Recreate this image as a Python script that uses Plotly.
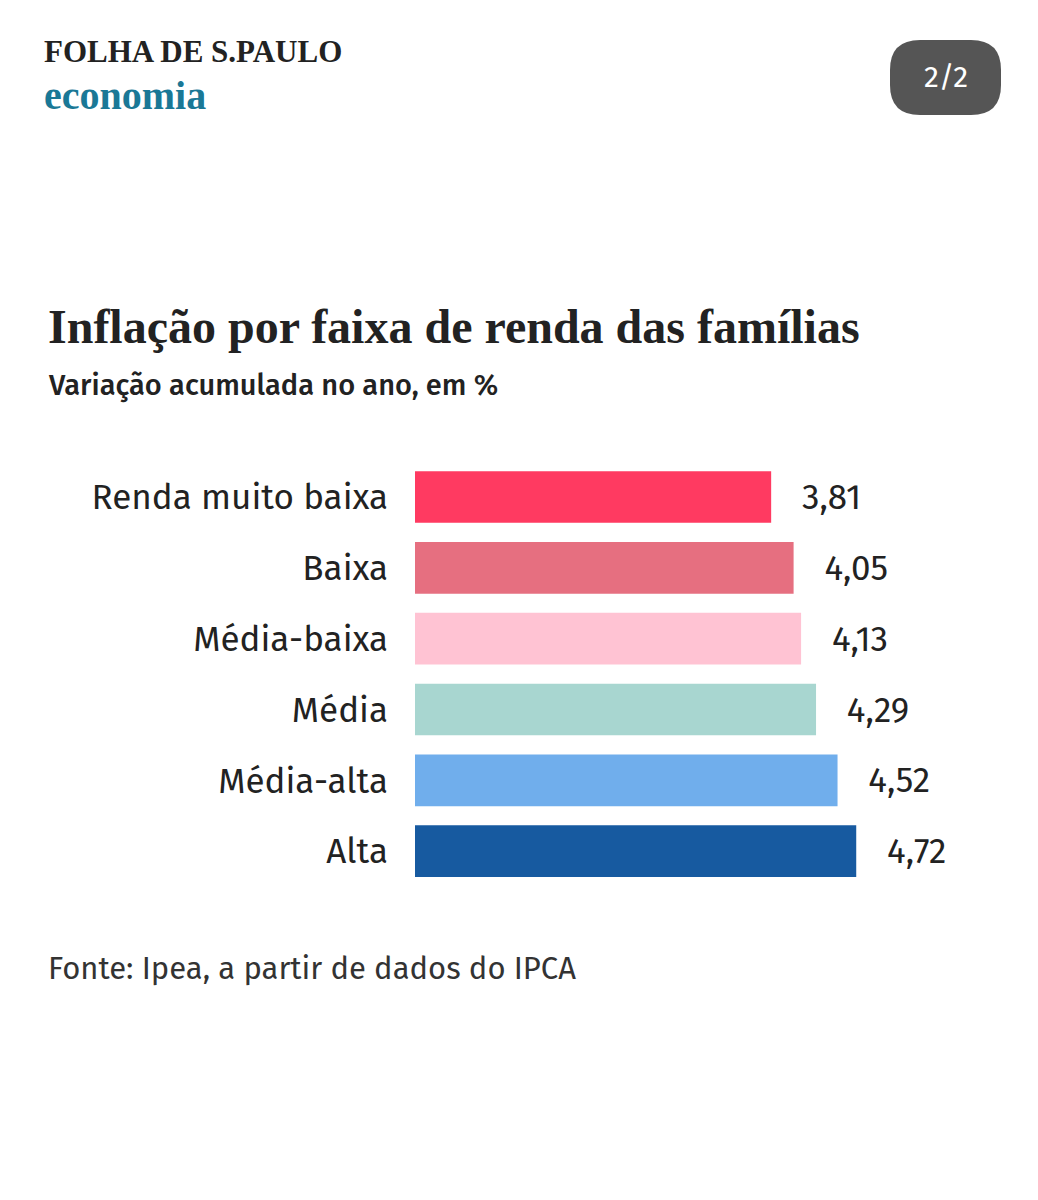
import plotly.graph_objects as go

categories = ['Renda muito baixa', 'Baixa', 'Média-baixa', 'Média', 'Média-alta', 'Alta']
values = [3.81, 4.05, 4.13, 4.29, 4.52, 4.72]
labels = ['   3,81', '   4,05', '   4,13', '   4,29', '   4,52', '   4,72']
colors = ['#ff3a61', '#e66f80', '#ffc3d3', '#a8d6d0', '#70aeec', '#175aa0']

W, H = 1038, 1200
OFF = 8  # page body margin
sans = 'Fira Sans, Noto Sans, sans-serif'
serif = 'Liberation Serif, serif'

fig = go.Figure(go.Bar(
    x=values, y=categories, orientation='h',
    marker=dict(color=colors, line=dict(width=0)),
    width=0.73,
    text=labels, textposition='outside', cliponaxis=False,
    textfont=dict(size=35, color='#222', family=sans),
    hoverinfo='skip'
))

fig.update_layout(
    width=W, height=H,
    margin=dict(l=0, r=0, t=0, b=0),
    paper_bgcolor='white', plot_bgcolor='white',
    showlegend=False,
    xaxis=dict(domain=[(415 - OFF) / W, 1.0], range=[0, 6.75], visible=False),
    yaxis=dict(
        domain=[(H - 886.6 + OFF) / H, (H - 461.6 + OFF) / H],
        range=[5.5, -0.5],
        categoryorder='array', categoryarray=categories,
        showgrid=False, showline=False, zeroline=False,
        ticks='outside', ticklen=19, tickcolor='rgba(0,0,0,0)',
        tickfont=dict(size=35, color='#222', family=sans)
    ),
)

def txt(x, y, s, size, color='#222', family=sans, bold=False, weight=None):
    f = dict(size=size, color=color, family=family)
    if weight:
        f['weight'] = weight
    fig.add_annotation(x=(x - OFF) / W, y=1 - (y - OFF) / H, xref='paper', yref='paper',
                       xanchor='left', yanchor='middle', showarrow=False,
                       text=f'<b>{s}</b>' if bold else s, font=f)

txt(42, 52, 'FOLHA DE S.PAULO', 31, '#222', serif, True)
txt(42, 95, 'economia', 40, '#1a7896', serif, True)
txt(46, 326, 'Inflação por faixa de renda das famílias', 48, '#222', serif, True)
txt(46, 385, 'Variação acumulada no ano, em %', 29, '#222', sans, weight=500)
txt(46, 968, 'Fonte: Ipea, a partir de dados do IPCA', 31, '#333', sans)

# badge
x0, x1, y0, y1, r = 890 - OFF, 1001 - OFF, 40 - OFF, 115 - OFF, 30
def px(x): return x / W
def py(y): return 1 - y / H
fig.add_shape(type='path', xref='paper', yref='paper',
              path=(f'M {px(x0 + r)},{py(y0)} L {px(x1 - r)},{py(y0)} '
                    f'Q {px(x1)},{py(y0)} {px(x1)},{py(y0 + r)} '
                    f'L {px(x1)},{py(y1 - r)} Q {px(x1)},{py(y1)} {px(x1 - r)},{py(y1)} '
                    f'L {px(x0 + r)},{py(y1)} Q {px(x0)},{py(y1)} {px(x0)},{py(y1 - r)} '
                    f'L {px(x0)},{py(y0 + r)} Q {px(x0)},{py(y0)} {px(x0 + r)},{py(y0)} Z'),
              fillcolor='#555555', line=dict(width=0))
fig.add_annotation(x=px((x0 + x1) / 2), y=py((y0 + y1) / 2), xref='paper', yref='paper',
                   xanchor='center', yanchor='middle',
                   showarrow=False, text='2/2', font=dict(size=30, color='white', family=sans))

fig.write_html('out.html')
